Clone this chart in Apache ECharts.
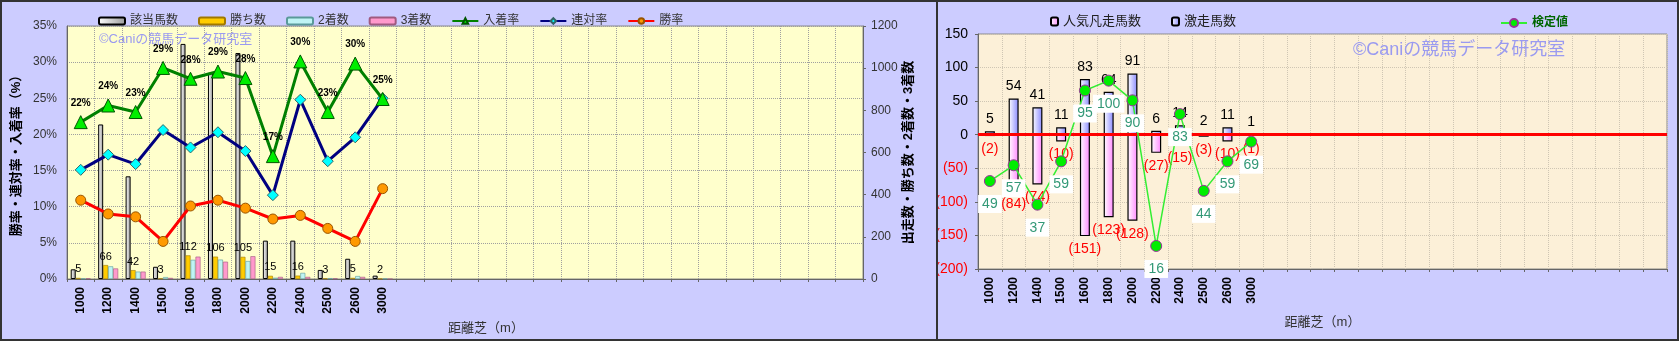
<!DOCTYPE html>
<html><head><meta charset="utf-8">
<script src="https://cdn.jsdelivr.net/npm/echarts@6/dist/echarts.min.js"></script>
<style>html,body{margin:0;padding:0;background:#ccccff;} #c{width:1679px;height:341px;}</style>
</head><body><div id="c"></div>
<script>
// ---- data ----
const categories = ['1000','1200','1400','1500','1600','1800','2000','2200','2400','2500','2600','3000'];
const emptySlots = 17;
const horses  = [46, 733, 487, 58, 1115, 978, 1072, 182, 182, 43, 96, 16];   // 該当馬数
const wins    = [5, 66, 42, 3, 112, 106, 105, 15, 16, 3, 5, 2];              // 勝ち数
const seconds = [2, 60, 35, 9, 91, 92, 85, 6, 29, 4, 14, 2];                 // 2着数
const thirds  = [3, 50, 35, 5, 106, 82, 108, 10, 10, 3, 10, 0];              // 3着数
const placeRate = [21.7, 24.0, 23.1, 29.2, 27.7, 28.7, 27.8, 17.0, 30.1, 23.1, 29.8, 24.9]; // 入着率
const rentaiRate = [15.1, 17.2, 15.9, 20.6, 18.2, 20.3, 17.7, 11.6, 24.8, 16.3, 19.6, 25.0]; // 連対率
const winRate = [10.9, 9.0, 8.6, 5.2, 10.1, 10.9, 9.8, 8.3, 8.8, 7.0, 5.2, 12.5];          // 勝率
const gekisou = [5, 54, 41, 11, 83, 64, 91, 6, 14, 2, 11, 1];                           // 激走馬数
const ninki   = [-2, -84, -74, -10, -151, -123, -128, -27, -15, -3, -10, -1];           // 人気凡走馬数
const kentei  = [49, 57, 37, 59, 95, 100, 90, 16, 83, 44, 59, 69];                      // 検定値

const cats = categories.concat(new Array(emptySlots).fill(''));
const FONT = '"Liberation Sans","Noto Sans CJK JP",sans-serif';
const G = echarts.graphic.LinearGradient;
const chart = echarts.init(document.getElementById('c'));

const dotted = {show:true, lineStyle:{color:'#a0a0a0', type:[1,1], width:1}};
const dotted2 = {show:true, lineStyle:{color:'#cfc6b4', type:[1,1], width:1}};

chart.setOption({
  animation:false,
  backgroundColor:'#ccccff',
  textStyle:{fontFamily:FONT},
  grid:[
    {left:67, top:26, width:796, height:253, show:true, backgroundColor:'#ffffcc', borderColor:'#8a8a8a', borderWidth:1},
    {left:978, top:34, width:689, height:235, show:true, backgroundColor:'#fcf0d8', borderColor:'#8a8a8a', borderWidth:1}
  ],
  legend:[
    {data:['該当馬数','勝ち数','2着数','3着数','入着率','連対率','勝率'], left:93, top:10,
     itemWidth:26, itemHeight:7, itemGap:20, textStyle:{fontSize:12, color:'#333', fontFamily:FONT}},
    {data:['人気凡走馬数','激走馬数'], left:1045, top:10, itemWidth:7, itemHeight:8, itemGap:30,
     textStyle:{fontSize:13, color:'#222', fontFamily:FONT}},
    {data:['検定値'], left:1495, top:12, itemWidth:26, itemHeight:10,
     textStyle:{fontSize:12, color:'#006600', fontWeight:'bold', fontFamily:FONT}}
  ],
  graphic:[
    {type:'text', left:99, top:33, z:1, style:{text:'©Caniの競馬データ研究室', fill:'#9a9af0', font:'13px '+FONT}},
    {type:'text', left:1353, top:41, z:1, style:{text:'©Caniの競馬データ研究室', fill:'#9a9af0', font:'18px '+FONT}},
    {type:'rect', z:100, shape:{x:1, y:1, width:1677, height:339}, style:{fill:'none', stroke:'#333', lineWidth:2}},
    {type:'line', z:100, shape:{x1:937, y1:0, x2:937, y2:341}, style:{stroke:'#333', lineWidth:2}}
  ],
  xAxis:[
    {type:'category', gridIndex:0, data:cats, boundaryGap:true,
     axisLine:{lineStyle:{color:'#666'}}, axisTick:{show:true, length:3, lineStyle:{color:'#666'}},
     axisLabel:{rotate:90, interval:0, fontSize:12, fontWeight:'bold', color:'#000', margin:8},
     splitLine:Object.assign({interval:0}, dotted),
     name:'距離芝（m）', nameLocation:'middle', nameGap:33,
     nameTextStyle:{fontSize:13, color:'#333', padding:[0,0,0,42]}},
    {type:'category', gridIndex:1, data:cats, boundaryGap:true,
     axisLine:{onZero:false, lineStyle:{color:'#666'}}, axisTick:{show:true, length:3, lineStyle:{color:'#666'}},
     axisLabel:{rotate:90, interval:0, fontSize:12, fontWeight:'bold', color:'#000', margin:8},
     splitLine:Object.assign({interval:0}, dotted2),
     name:'距離芝（m）', nameLocation:'middle', nameGap:47,
     nameTextStyle:{fontSize:13, color:'#333'}}
  ],
  yAxis:[
    {type:'value', gridIndex:0, position:'left', min:0, max:35, interval:5,
     axisLine:{show:true, lineStyle:{color:'#666'}}, axisTick:{show:false},
     axisLabel:{formatter:'{value}%', fontSize:12, color:'#333', margin:10},
     splitLine:dotted,
     name:'勝率・連対率・入着率（%）', nameLocation:'middle', nameGap:44,
     nameTextStyle:{fontSize:13, fontWeight:'bold', color:'#000'}},
    {type:'value', gridIndex:0, position:'right', min:0, max:1200, interval:200,
     axisLine:{show:true, lineStyle:{color:'#666'}}, axisTick:{show:true, length:3},
     axisLabel:{fontSize:12, color:'#333', margin:8, formatter:v => String(v)}, splitLine:{show:false},
     name:'出走数・勝ち数・2着数・3着数', nameLocation:'middle', nameGap:32, nameRotate:90,
     nameTextStyle:{fontSize:13, fontWeight:'bold', color:'#000'}},
    {type:'value', gridIndex:1, min:-200, max:150, interval:50,
     axisLine:{show:true, lineStyle:{color:'#666'}}, axisTick:{show:true, length:3},
     axisLabel:{fontSize:14, margin:10,
       formatter:v => v < 0 ? '{n|(' + (-v) + ')}' : '{p|' + v + '}',
       rich:{n:{color:'#ff0000', fontSize:14}, p:{color:'#000', fontSize:14}}},
     splitLine:dotted2},
    {type:'value', gridIndex:1, min:4.3, max:123.7, show:false, splitLine:{show:false}}
  ],
  series:[
    {name:'該当馬数', type:'bar', xAxisIndex:0, yAxisIndex:1, data:horses, barWidth:5, barGap:'0%',
     itemStyle:{color:new G(0,0,1,0,[{offset:0,color:'#ffffff'},{offset:1,color:'#9a9a9a'}]), borderColor:'#000', borderWidth:1}},
    {name:'勝ち数', type:'bar', xAxisIndex:0, yAxisIndex:1, data:wins, barWidth:5, barGap:'0%',
     itemStyle:{color:'#ffcc00', borderColor:'#a07800', borderWidth:0.6},
     label:{show:true, position:'top', distance:3, fontSize:11, color:'#000'}},
    {name:'2着数', type:'bar', xAxisIndex:0, yAxisIndex:1, data:seconds, barWidth:5, barGap:'0%',
     itemStyle:{color:'#bff4f4', borderColor:'#5a9a9a', borderWidth:0.6}},
    {name:'3着数', type:'bar', xAxisIndex:0, yAxisIndex:1, data:thirds, barWidth:5, barGap:'0%',
     itemStyle:{color:'#ff99cc', borderColor:'#a05a80', borderWidth:0.6}},
    {name:'入着率', type:'line', xAxisIndex:0, yAxisIndex:0, data:placeRate, symbol:'triangle', symbolSize:13,
     lineStyle:{color:'#008000', width:3}, itemStyle:{color:'#00ee00', borderColor:'#005500', borderWidth:1},
     label:{show:true, position:'top', distance:7, fontSize:10, fontWeight:'bold', color:'#000',
       formatter:p => Math.round(p.value) + '%'}, z:5},
    {name:'連対率', type:'line', xAxisIndex:0, yAxisIndex:0, data:rentaiRate, symbol:'diamond', symbolSize:11,
     lineStyle:{color:'#000080', width:3}, itemStyle:{color:'#00ffff', borderColor:'#336666', borderWidth:1}, z:4},
    {name:'勝率', type:'line', xAxisIndex:0, yAxisIndex:0, data:winRate, symbol:'circle', symbolSize:10,
     lineStyle:{color:'#ff0000', width:3}, itemStyle:{color:'#ff9900', borderColor:'#995500', borderWidth:1}, z:4},

    {name:'人気凡走馬数', type:'bar', xAxisIndex:1, yAxisIndex:2, data:ninki, stack:'r', barWidth:10,
     itemStyle:{color:new G(0,0,1,0,[{offset:0,color:'#ffffff'},{offset:1,color:'#ff88ff'}]), borderColor:'#000', borderWidth:1.2},
     label:{show:true, position:'bottom', distance:6, fontSize:14, color:'#ff0000', formatter:p => '(' + (-p.value) + ')'}},
    {name:'激走馬数', type:'bar', xAxisIndex:1, yAxisIndex:2, data:gekisou, stack:'r', barWidth:10,
     itemStyle:{color:new G(0,0,1,0,[{offset:0,color:'#ffffff'},{offset:1,color:'#8888ff'}]), borderColor:'#000', borderWidth:1.2},
     label:{show:true, position:'top', distance:5, fontSize:14, color:'#000'},
     markLine:{silent:true, symbol:'none', label:{show:false}, z:6,
       lineStyle:{color:'#ff0000', width:3, type:'solid'}, data:[{yAxis:0}]}},
    {name:'検定値', type:'line', xAxisIndex:1, yAxisIndex:3, data:kentei, symbol:'circle', symbolSize:11, z:10,
     lineStyle:{color:'#33ee33', width:1.5}, itemStyle:{color:'#00ee00', borderColor:'#993399', borderWidth:1},
     label:{show:true, position:'bottom', distance:8, fontSize:14, color:'#339977',
       backgroundColor:'#ffffff', padding:[2,4]}}
  ]
});
</script></body></html>
